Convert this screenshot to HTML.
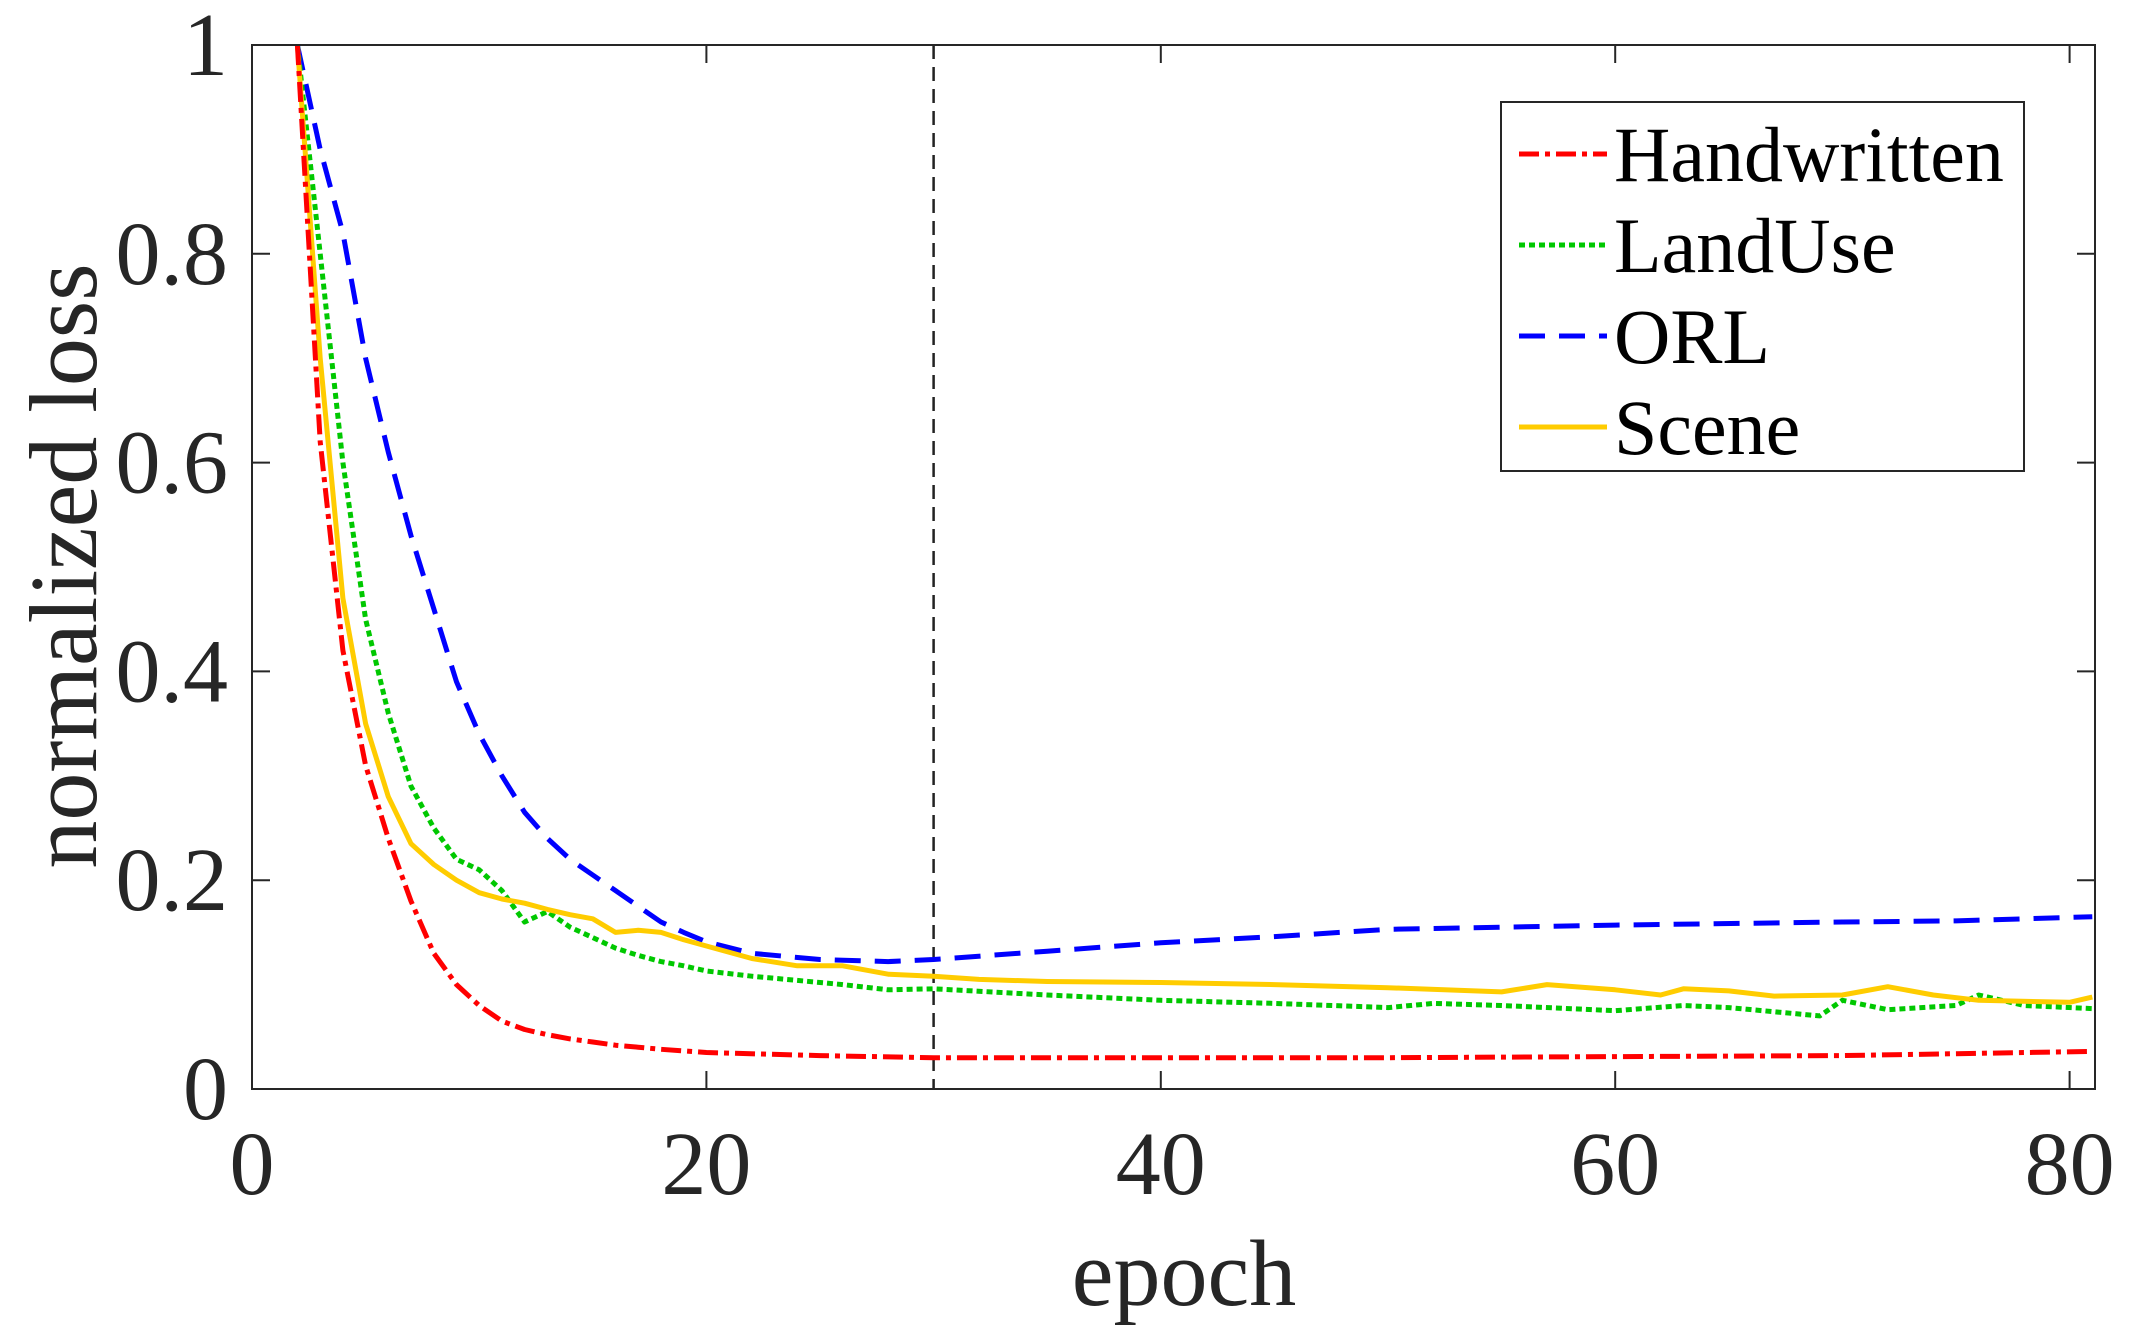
<!DOCTYPE html>
<html><head><meta charset="utf-8"><style>
html,body{margin:0;padding:0;background:#fff;}
svg{display:block;font-family:"Liberation Serif",serif;}
</style></head><body>
<svg id="chart" width="2134" height="1339" viewBox="0 0 2134 1339">
<rect x="0" y="0" width="2134" height="1339" fill="#fff"/>
<g id="plot"></g>
<g id="axes"></g>
</svg>
<script>
const xTicks = [0, 20, 40, 60, 80];
const yTicks = [0, 0.2, 0.4, 0.6, 0.8, 1];
const yTickLabels = ["0", "0.2", "0.4", "0.6", "0.8", "1"];
const markerEpoch = 30;

const hwX = [2,3,4,5,6,7,8,9,10,11,12,13,14,15,16,17,18,20,25,30,40,50,60,70,81];
const hwY = [1,0.62,0.42,0.31,0.24,0.18,0.13,0.1,0.08,0.065,0.057,0.052,0.048,0.045,0.042,0.04,0.038,0.035,0.032,0.03,0.03,0.03,0.031,0.032,0.036];

const luX = [2,3,4,5,6,7,8,9,10,11,12,13,14,15,16,17,18,19,20,22,24,26,28,30,35,40,45,50,52,55,60,63,65,69,70,72,75,76,78,81];
const luY = [1,0.8,0.6,0.45,0.36,0.29,0.25,0.22,0.21,0.19,0.16,0.17,0.155,0.145,0.135,0.128,0.122,0.118,0.113,0.108,0.104,0.1,0.095,0.096,0.09,0.085,0.082,0.078,0.082,0.08,0.075,0.08,0.078,0.07,0.085,0.076,0.08,0.09,0.08,0.077];

const orlX = [2,3,4,5,6,7,8,9,10,11,12,13,14,15,16,17,18,19,20,22,25,28,30,35,40,45,50,60,70,75,81];
const orlY = [1,0.9,0.82,0.7,0.61,0.53,0.46,0.39,0.34,0.3,0.265,0.24,0.22,0.205,0.19,0.175,0.16,0.15,0.141,0.13,0.124,0.122,0.124,0.132,0.14,0.146,0.153,0.157,0.16,0.161,0.165];

const scX = [2,3,4,5,6,7,8,9,10,11,12,13,14,15,16,17,18,19,20,22,24,26,28,30,32,35,40,45,50,55,57,60,62,63,65,67,70,72,74,76,80,81];
const scY = [1,0.7,0.47,0.35,0.28,0.235,0.215,0.2,0.188,0.182,0.178,0.172,0.167,0.163,0.15,0.152,0.15,0.143,0.137,0.125,0.118,0.118,0.11,0.108,0.105,0.103,0.102,0.1,0.097,0.093,0.1,0.095,0.09,0.096,0.094,0.089,0.09,0.098,0.09,0.085,0.083,0.088];

const L = 252, R = 2095, T = 45, B = 1089;
const X0 = 252, XPER = 22.72;
const sx = v => X0 + v * XPER;
const sy = v => B - v * (B - T);
const NS = "http://www.w3.org/2000/svg";
const plot = document.getElementById('plot');
const axes = document.getElementById('axes');
function mk(tag, attrs, parent) {
  const e = document.createElementNS(NS, tag);
  for (const k in attrs) e.setAttribute(k, attrs[k]);
  parent.appendChild(e);
  return e;
}

// frame
const frame = mk('rect', {x:L, y:T, width:R-L, height:B-T, fill:'none', stroke:'#262626', 'stroke-width':2}, axes);



// ticks
xTicks.forEach(t => {
  const x = sx(t);
  mk('line', {x1:x, y1:B, x2:x, y2:B-18, stroke:'#262626', 'stroke-width':2}, axes);
  mk('line', {x1:x, y1:T, x2:x, y2:T+18, stroke:'#262626', 'stroke-width':2}, axes);
  const tx = mk('text', {x:x, y:1194, 'font-size':90, fill:'#262626', 'text-anchor':'middle'}, axes);
  tx.textContent = String(t);
  
  
});
yTicks.forEach((t, i) => {
  const y = sy(t);
  mk('line', {x1:L, y1:y, x2:L+18, y2:y, stroke:'#262626', 'stroke-width':2}, axes);
  mk('line', {x1:R, y1:y, x2:R-18, y2:y, stroke:'#262626', 'stroke-width':2}, axes);
  const tx = mk('text', {x:228, y:y+30, 'font-size':90, fill:'#262626', 'text-anchor':'end'}, axes);
  tx.textContent = yTickLabels[i];
  
  
});

// axis titles
const xt = mk('text', {x:1184, y:1305, 'font-size':94, fill:'#262626', 'text-anchor':'middle'}, axes);
xt.textContent = 'epoch';


const yt = mk('text', {x:0, y:0, 'font-size':96, fill:'#262626', 'text-anchor':'middle', transform:'translate(96,566) rotate(-90)'}, axes);
yt.textContent = 'normalized loss';



// vertical marker
const vm = mk('line', {x1:sx(markerEpoch), y1:T, x2:sx(markerEpoch), y2:B, stroke:'#222', 'stroke-width':2.5, 'stroke-dasharray':'14 8'}, plot);



function series(xs, ys, color, dash, name) {
  const d = xs.map((x, i) => (i ? 'L' : 'M') + sx(x).toFixed(1) + ' ' + sy(ys[i]).toFixed(1)).join(' ');
  const p = mk('path', {d:d, fill:'none', stroke:color, 'stroke-width':5, 'stroke-dasharray':dash, 'stroke-linejoin':'round'}, plot);
  
  
}
series(orlX, orlY, '#0000ff', '26 14', 'orl-line');
series(luX, luY, '#00c800', '6 4', 'landuse-line');
series(scX, scY, '#ffcc00', 'none', 'scene-line');
series(hwX, hwY, '#ff0000', '20 6 5 6', 'handwritten-line');

// legend
const lg = mk('g', {}, axes);


mk('rect', {x:1501, y:102, width:523, height:369, fill:'#fff', stroke:'#262626', 'stroke-width':2}, lg);
const legNames = ['Handwritten', 'LandUse', 'ORL', 'Scene'];
const legColors = ['#ff0000', '#00c800', '#0000ff', '#ffcc00'];
const legDash = ['20 6 5 6', '6 4', '26 14', 'none'];
const legSlug = ['handwritten', 'landuse', 'orl', 'scene'];
legNames.forEach((n, i) => {
  const y = 154 + i * 91;
  const ln = mk('line', {x1:1519, y1:y, x2:1607, y2:y, stroke:legColors[i], 'stroke-width':5, 'stroke-dasharray':legDash[i]}, lg);
  
  
  const tx = mk('text', {x:1614, y:y+27, 'font-size':78, fill:'#000'}, lg);
  tx.textContent = n;
  
  
});
</script>
</body></html>
